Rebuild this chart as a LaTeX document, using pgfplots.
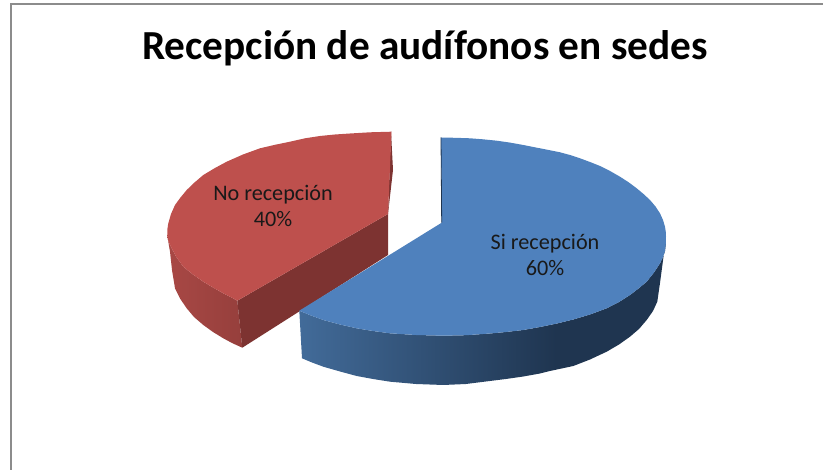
\documentclass[border=0pt]{standalone}
\usepackage{pgfplots}
\pgfplotsset{compat=1.18}
\usepackage{fontspec}
\setmainfont{Carlito}
\definecolor{bluetop}{HTML}{4F81BD}
\definecolor{bluel}{HTML}{426B99}
\definecolor{bluer}{HTML}{1F3550}
\definecolor{redtop}{HTML}{BE504D}
\definecolor{redside}{HTML}{7D3331}
\definecolor{redl}{HTML}{A84845}
\definecolor{redr}{HTML}{963F3C}
\definecolor{frame}{HTML}{8C8C8C}
\pgfdeclarehorizontalshading{bluerim}{100bp}{color(0bp)=(bluel); color(25bp)=(bluel); color(60bp)=(bluer); color(100bp)=(bluer)}
\pgfdeclarehorizontalshading{redrim}{100bp}{color(0bp)=(redl); color(25bp)=(redl); color(75bp)=(redr); color(100bp)=(redr)}
\begin{document}
\begin{tikzpicture}
\begin{axis}[
  scale only axis, width=823pt, height=470pt,
  xmin=0, xmax=823, ymin=0, ymax=470, y dir=reverse,
  hide axis, clip=true]
\path (axis cs:0,0) rectangle (axis cs:823,470);
% frame
\addplot[frame, line width=2pt] coordinates {(823,4) (11,4) (11,470)};
% red slice: rim
\addplot[shade, shading=redrim, draw=none] coordinates {
 (167.3,235) (168,240) (170,245) (176,256.5) (183.3,266.7) (193,274.5) (203.3,281.7) (213,287.5) (223.3,293.3) (230,296.7) (237.3,300.7)
 (242.3,347.7) (232,343) (223.3,338.3) (213,332) (203.3,325) (194,317) (186.7,308.3) (180,298.5) (175,288.3) (172,270) (170,251.7) (168.5,243)} -- cycle;
% red slice: cut face
\addplot[fill=redside, draw=none] coordinates {
 (388,214) (237.3,300.7) (242.3,347.7) (388,255)} -- cycle;
% red slice: sliver on the upper cut
\addplot[fill=redside, draw=none] coordinates {
 (391,131.7) (393,170) (388,214)} -- cycle;
% red slice: top
\addplot[fill=redtop, draw=none] coordinates {
 (391.5,131.7) (370,132.3) (350,133.5) (335,134.5) (320,136) (305,138.3) (290,141.7) (275,144.8) (260,148.3) (243,154.5) (226.7,161.7) (215,168) (203.3,175) (194.5,182.5) (186.7,190) (180.5,197.5) (175,205) (171,214) (168.3,223.3) (167.4,229) (167.3,235) (168,240) (170,245) (176,256.5) (183.3,266.7) (193,274.5) (203.3,281.7) (213,287.5) (223.3,293.3) (230,296.7) (237.3,300.7)
 (388,214)} -- cycle;
% blue slice: rim
\addplot[shade, shading=bluerim, draw=none] coordinates {
 (299.3,310.7) (311,315.5) (323.3,320) (340,324.5) (356.7,328.3) (373,331) (390,333.3) (416,335) (443.3,335.7) (466,335.2) (490,333.5) (506,332) (523.3,330) (540,327) (557,323.5) (573.3,319.5) (590,314.5) (606.7,308.3) (619,302) (630,295) (638.5,288.5) (646.7,281.7) (654,272.5) (660,263.3) (663,257) (665,251) (665.8,244) (666,236.7)
 (664,253) (662,268) (660,283) (657.3,301.7) (653,311) (646.7,320) (639,329) (630,336.7) (619,344.5) (606.7,351.7) (590,359.5) (573.3,366) (550,371) (540,373.5) (523.3,376.5) (506,379) (490,381) (466,384) (443.3,385) (416,384) (390,381.7) (373,379) (356.7,376) (340,371.5) (323.3,366.7) (312,362.5) (302,358.3)} -- cycle;
% blue slice: top
\addplot[fill=bluetop, draw=none] coordinates {
 (441,137.5) (455,137.8) (470,138.3) (483,139.3) (496.7,140.7) (510,142.6) (523.3,145) (541,148.5) (560,152.3) (570,155) (580,158.3) (590,162) (600,166) (610,171) (620,176.7) (628.5,182.2) (636.7,188.3) (643.5,194) (650,200) (655.5,206.5) (660,213.3) (663,220) (665,226.7) (665.8,232) (666,236.7) (665.8,244) (665,251) (663,257) (660,263.3) (654,272.5) (646.7,281.7) (638.5,288.5) (630,295) (619,302) (606.7,308.3) (590,314.5) (573.3,319.5) (557,323.5) (540,327) (523.3,330) (506,332) (490,333.5) (466,335.2) (443.3,335.7) (416,335) (390,333.3) (373,331) (356.7,328.3) (340,324.5) (323.3,320) (311,315.5) (299.3,310.7)
 (441.7,222.7)} -- cycle;
\addplot[bluer, line width=0.8pt] coordinates {(441,137.5) (441.7,222.7)};
% labels
\node[font=\bfseries\fontsize{41.3}{41}\selectfont, anchor=base, text=black] at (axis cs:425,60) {Recepción de audífonos en sedes};
\node[font=\fontsize{22.2}{26}\selectfont, align=center, text=black!90] at (axis cs:273,206) {No recepción\\40\%};
\node[font=\fontsize{22.2}{26}\selectfont, align=center, text=black!90] at (axis cs:545,255) {Si recepción\\60\%};
\end{axis}
\end{tikzpicture}
\end{document}
